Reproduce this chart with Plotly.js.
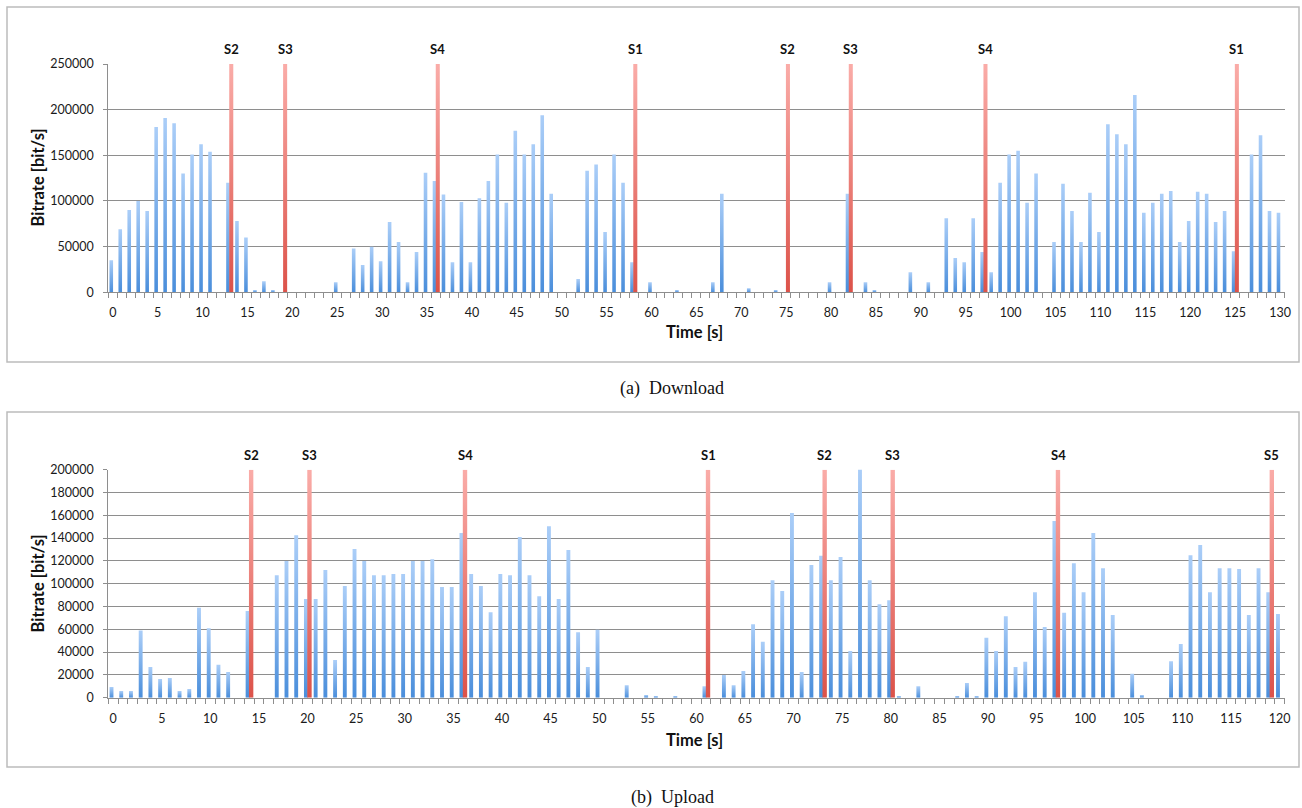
<!DOCTYPE html>
<html>
<head>
<meta charset="utf-8">
<script src="https://cdn.plot.ly/plotly-3.0.1.min.js"></script>
<style>
  html, body { margin: 0; padding: 0; background: #ffffff; }
  #chart { width: 1302px; height: 808px; }
</style>
</head>
<body>
<div id="chart"></div>
<script>
// ---------- DATA ----------
// Download bitrate per second, t = 0..130 s
const dlValues = [
  35000, 69000, 90000, 100000, 89000, 181000, 191000, 185000, 130000, 151000,
  162000, 154000, 0, 120000, 78000, 60000, 2500, 12000, 2500, 0,
  0, 0, 0, 0, 0, 11000, 0, 48000, 30000, 50000,
  34000, 77000, 55000, 11000, 44000, 131000, 122000, 107000, 33000, 99000,
  33000, 103000, 122000, 151000, 98000, 177000, 151000, 162000, 194000, 108000,
  0, 0, 14500, 133000, 140000, 66000, 151000, 120000, 33000, 0,
  11000, 0, 0, 2500, 0, 0, 0, 11000, 108000, 0,
  0, 4500, 0, 0, 2500, 0, 0, 0, 0, 0,
  11000, 0, 108000, 0, 11000, 2500, 0, 0, 0, 22000,
  0, 11000, 0, 81000, 37500, 33000, 81000, 44000, 22000, 120000,
  151000, 155000, 98000, 130000, 0, 55000, 119000, 89000, 55000, 109000,
  66000, 184000, 173000, 162000, 216000, 87000, 98000, 108000, 111000, 55000,
  78000, 110000, 108000, 77000, 89000, 45000, 0, 151000, 172000, 89000,
  87000
];
// Upload bitrate per second, t = 0..120 s
const ulValues = [
  9400, 5800, 5800, 59000, 27000, 16500, 17300, 5800, 7600, 79000,
  61000, 29000, 22500, 0, 76000, 0, 0, 107500, 120000, 142500,
  86500, 86500, 112000, 33000, 98000, 130500, 120000, 107500, 107500, 108500,
  108500, 120000, 120000, 121500, 97000, 97000, 144500, 108500, 98000, 75000,
  108500, 107500, 141000, 107500, 89000, 150500, 86500, 129500, 57500, 27000,
  59500, 0, 0, 11000, 0, 2300, 1500, 0, 1500, 0,
  0, 10000, 0, 20000, 11000, 23500, 64500, 49000, 103000, 93500,
  162000, 22500, 116500, 124500, 103000, 123500, 41000, 201500, 103000, 82000,
  85500, 1500, 0, 10000, 0, 0, 0, 1500, 13000, 1500,
  52500, 41000, 71500, 27000, 31500, 92500, 62000, 155000, 74500, 118000,
  92500, 144500, 113500, 72500, 0, 21000, 2300, 0, 0, 32000,
  47000, 125000, 134000, 92500, 113500, 113500, 113000, 72500, 113500, 92500,
  73500
];
// Switch events (red markers)
const dlMarkerTimes  = [13, 19, 36, 58, 75, 82, 97, 125];
const dlMarkerLabels = ['S2', 'S3', 'S4', 'S1', 'S2', 'S3', 'S4', 'S1'];
const ulMarkerTimes  = [14, 20, 36, 61, 73, 80, 97, 119];
const ulMarkerLabels = ['S2', 'S3', 'S4', 'S1', 'S2', 'S3', 'S4', 'S5'];
const dlAxisMax = 250000;
const ulAxisMax = 200000;
const dlTickStep = 50000;
const ulTickStep = 20000;
const xLabelStep = 5;
const yTitle = 'Bitrate [bit/s]';
const xTitle = 'Time [s]';
const captionA = '(a)  Download';
const captionB = '(b)  Upload';

// ---------- BUILD ----------
const W = 1302, H = 808;
const px = v => v / W;
const py = v => 1 - v / H;

const dlTime = dlValues.map((_, i) => i);
const ulTime = ulValues.map((_, i) => i);

const BLUE = 'rgb(122, 174, 233)';
const RED  = 'rgb(236, 122, 116)';
const GRID = '#8e8e8e';
const tickFont = { family: 'Lato, "Open Sans", sans-serif', size: 12.5, color: '#1a1a1a' };
const boldFont = { family: 'Lato, "Open Sans", sans-serif', size: 13, color: '#111', weight: 'bold' };

const blueStyle = { width: 0.40, offset: -0.37 };
const redStyle  = { width: 0.45, offset: -0.03 };

const traces = [
  { type: 'bar', x: dlTime, y: dlValues, xaxis: 'x', yaxis: 'y',
    marker: { color: BLUE, line: { width: 0 } }, width: blueStyle.width, offset: blueStyle.offset, hoverinfo: 'x+y' },
  { type: 'bar', x: dlMarkerTimes, y: dlMarkerTimes.map(() => dlAxisMax), xaxis: 'x', yaxis: 'y',
    marker: { color: RED, line: { width: 0 } }, width: redStyle.width, offset: redStyle.offset, hoverinfo: 'x' },
  { type: 'bar', x: ulTime, y: ulValues, xaxis: 'x2', yaxis: 'y2', cliponaxis: false,
    marker: { color: BLUE, line: { width: 0 } }, width: blueStyle.width, offset: blueStyle.offset, hoverinfo: 'x+y' },
  { type: 'bar', x: ulMarkerTimes, y: ulMarkerTimes.map(() => ulAxisMax), xaxis: 'x2', yaxis: 'y2',
    marker: { color: RED, line: { width: 0 } }, width: redStyle.width, offset: redStyle.offset, hoverinfo: 'x' }
];

function xAxisDef(n, anchor) {
  return {
    domain: [px(108.3), px(1284.5)], anchor: anchor,
    range: [-0.5, n - 0.5], autorange: false,
    tick0: 0, dtick: xLabelStep, ticks: '', ticklabelstandoff: 9,
    tickfont: tickFont, showgrid: false, zeroline: false,
    showline: true, linecolor: GRID, linewidth: 1,
    minor: { tick0: 0.5, dtick: 1, ticks: 'outside', ticklen: 5, tickcolor: GRID, tickwidth: 1, showgrid: false },
    fixedrange: true
  };
}
function yAxisDef(dom, max, step, anchor) {
  return {
    domain: dom, anchor: anchor,
    range: [0, max], autorange: false, dtick: step, tick0: 0,
    tickformat: 'd', ticks: 'outside', ticklen: 4, tickcolor: GRID, tickwidth: 1,
    ticklabelstandoff: 7, tickfont: tickFont,
    showgrid: true, gridcolor: GRID, gridwidth: 1, zeroline: false,
    showline: true, linecolor: GRID, linewidth: 1, fixedrange: true
  };
}

const annotations = [];
function markerLabels(times, labels, max, xr, yr) {
  times.forEach((t, i) => annotations.push({
    x: t + 0.2, y: max, xref: xr, yref: yr, text: labels[i], showarrow: false,
    yanchor: 'middle', xanchor: 'center', yshift: 15, font: boldFont
  }));
}
markerLabels(dlMarkerTimes, dlMarkerLabels, dlAxisMax, 'x', 'y');
markerLabels(ulMarkerTimes, ulMarkerLabels, ulAxisMax, 'x2', 'y2');

const titleFont = { family: 'Lato, "Open Sans", sans-serif', size: 16.5, color: '#111', weight: 'bold' };
const capFont = { family: '"Liberation Serif", "DejaVu Serif", serif', size: 18, color: '#111' };
annotations.push(
  { xref: 'paper', yref: 'paper', x: px(37), y: py(177.5), text: yTitle, textangle: -90, showarrow: false, font: titleFont, xanchor: 'center', yanchor: 'middle' },
  { xref: 'paper', yref: 'paper', x: px(37), y: py(583.5), text: yTitle, textangle: -90, showarrow: false, font: titleFont, xanchor: 'center', yanchor: 'middle' },
  { xref: 'paper', yref: 'paper', x: px(694), y: py(332), text: xTitle, showarrow: false, font: titleFont, xanchor: 'center', yanchor: 'middle' },
  { xref: 'paper', yref: 'paper', x: px(694), y: py(740), text: xTitle, showarrow: false, font: titleFont, xanchor: 'center', yanchor: 'middle' },
  { xref: 'paper', yref: 'paper', x: px(672), y: py(388), text: captionA, showarrow: false, font: capFont, xanchor: 'center', yanchor: 'middle' },
  { xref: 'paper', yref: 'paper', x: px(672), y: py(797), text: captionB, showarrow: false, font: capFont, xanchor: 'center', yanchor: 'middle' }
);

const boxLine = { color: '#bcbcbc', width: 1.5 };
const shapes = [
  { type: 'rect', xref: 'paper', yref: 'paper', x0: px(7), x1: px(1299), y0: py(362), y1: py(7), line: boxLine, fillcolor: 'rgba(0,0,0,0)', layer: 'below' },
  { type: 'rect', xref: 'paper', yref: 'paper', x0: px(7), x1: px(1299), y0: py(767), y1: py(412), line: boxLine, fillcolor: 'rgba(0,0,0,0)', layer: 'below' }
];

const layout = {
  width: W, height: H,
  margin: { l: 0, r: 0, t: 0, b: 0, pad: 0 },
  paper_bgcolor: '#ffffff', plot_bgcolor: '#ffffff',
  showlegend: false, barmode: 'overlay',
  xaxis: xAxisDef(dlValues.length, 'y'),
  yaxis: yAxisDef([py(292.3), py(64)], dlAxisMax, dlTickStep, 'x'),
  xaxis2: xAxisDef(ulValues.length, 'y2'),
  yaxis2: yAxisDef([py(697.7), py(469.7)], ulAxisMax, ulTickStep, 'x2'),
  annotations: annotations, shapes: shapes,
  font: tickFont
};

function applyGradients(gd) {
  const svg = gd.querySelector('.main-svg');
  if (!svg) return;
  let defs = svg.querySelector('defs');
  const NS = 'http://www.w3.org/2000/svg';
  if (!defs) { defs = document.createElementNS(NS, 'defs'); svg.insertBefore(defs, svg.firstChild); }
  function grad(id, c0, c1) {
    if (svg.querySelector('#' + id)) return;
    const g = document.createElementNS(NS, 'linearGradient');
    g.setAttribute('id', id); g.setAttribute('x1', '0'); g.setAttribute('y1', '0');
    g.setAttribute('x2', '0'); g.setAttribute('y2', '1');
    [[0, c0], [1, c1]].forEach(([o, c]) => {
      const s = document.createElementNS(NS, 'stop');
      s.setAttribute('offset', o); s.setAttribute('stop-color', c); g.appendChild(s);
    });
    defs.appendChild(g);
  }
  grad('gBlue', '#abcef8', '#4a8edb');
  grad('gRed', '#faaca8', '#dc5249');
  gd.querySelectorAll('.barlayer .point path').forEach(p => {
    const f = p.style.fill.replace(/\s/g, '');
    if (f === BLUE.replace(/\s/g, '')) p.style.fill = 'url(#gBlue)';
    else if (f === RED.replace(/\s/g, '')) p.style.fill = 'url(#gRed)';
  });
}

const gd = document.getElementById('chart');
Plotly.newPlot(gd, traces, layout, { displayModeBar: false, staticPlot: true }).then(() => applyGradients(gd));
</script>
</body>
</html>
